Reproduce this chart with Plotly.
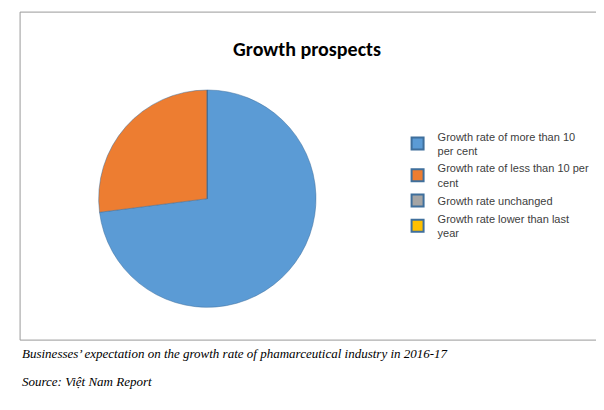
import plotly.graph_objects as go

labels = ["Growth rate of more than 10<br>per cent",
          "Growth rate of less than 10 per<br>cent",
          "Growth rate unchanged",
          "Growth rate lower than last<br>year"]
values = [73, 27, 0, 0]
colors = ["#5b9bd5", "#ed7d31", "#a5a5a5", "#ffc000"]

fig = go.Figure(go.Pie(
    labels=labels, values=values, sort=False, direction="clockwise", rotation=0,
    marker=dict(colors=colors, line=dict(color="#3f6f9c", width=0.5)),
    textinfo="none", hoverinfo="label+percent",
    domain=dict(x=[0.1, 0.56], y=[0.27, 0.8]),
))

fig.update_layout(
    width=604, height=410, paper_bgcolor="white", plot_bgcolor="white",
    margin=dict(l=0, r=0, t=0, b=0),
    title=dict(text="<b>Growth prospects</b>", x=0.495, y=0.9, xanchor="center", yanchor="middle",
               font=dict(family="Calibri, Carlito, Open Sans, sans-serif", size=20, color="black")),
    legend=dict(x=0.645, y=0.72, yanchor="top", traceorder="normal",
                font=dict(family="Liberation Sans, Arial, sans-serif", size=11, color="#404040"),
                tracegroupgap=12, itemsizing="constant"),
    shapes=[dict(type="rect", xref="paper", yref="paper", x0=0.02, x1=0.975, y0=0.19, y1=0.99,
                 line=dict(color="#999999", width=1))],
    annotations=[
        dict(text="<i>Businesses’ expectation on the growth rate of phamarceutical industry in 2016-17</i>",
             x=0.02, y=0.135, xref="paper", yref="paper", xanchor="left", showarrow=False,
             font=dict(family="Liberation Serif, Times New Roman, serif", size=13, color="black")),
        dict(text="<i>Source: Việt Nam Report</i>",
             x=0.02, y=0.065, xref="paper", yref="paper", xanchor="left", showarrow=False,
             font=dict(family="Liberation Serif, Times New Roman, serif", size=13, color="black")),
    ],
)

fig.write_html("out.html")
